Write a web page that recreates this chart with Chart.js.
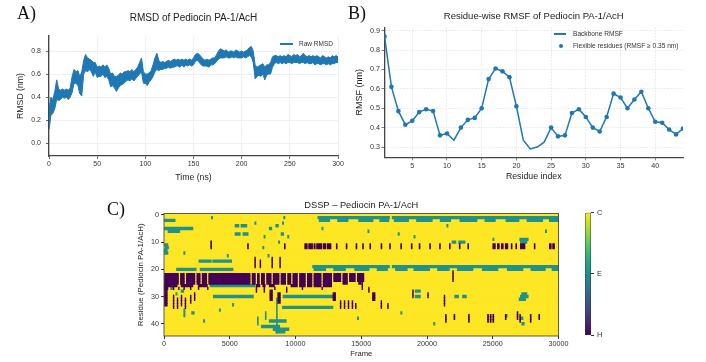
<!DOCTYPE html>
<html><head><meta charset="utf-8">
<script src="https://cdn.jsdelivr.net/npm/chart.js@4.4.1/dist/chart.umd.min.js"></script>
<style>
html,body{margin:0;padding:0;background:#fff;}
#wrap{position:relative;width:706px;height:362px;overflow:hidden;font-family:'Liberation Sans',Arial,sans-serif;background:#fff;}
canvas{position:absolute;}
.lab{position:absolute;font-family:'Liberation Serif','Times New Roman',serif;font-size:18px;color:#111;line-height:1;}
.leg{position:absolute;color:#333;white-space:nowrap;line-height:8px;}
</style></head><body>
<div id="wrap">
  <canvas id="chA" width="353" height="190" style="left:0;top:0"></canvas>
  <canvas id="chB" width="353" height="190" style="left:353px;top:0"></canvas>
  <canvas id="chC" width="470" height="172" style="left:100px;top:190px"></canvas>
  <canvas id="chD" width="50" height="150" style="left:570px;top:200px"></canvas>
  <div class="lab" style="left:17px;top:4px">A)</div>
  <div class="lab" style="left:348px;top:4px">B)</div>
  <div class="lab" style="left:107px;top:200px">C)</div>
  <div style="position:absolute;left:280px;top:43.4px;width:13px;height:1.3px;background:#1f77b4"></div>
  <div class="leg" style="left:299px;top:40px;font-size:6.5px">Raw RMSD</div>
  <div style="position:absolute;left:554px;top:33.3px;width:12px;height:1.5px;background:#1f77b4"></div>
  <div class="leg" style="left:573px;top:30px;font-size:6.6px">Backbone RMSF</div>
  <div style="position:absolute;left:559px;top:44px;width:4.4px;height:4.4px;border-radius:50%;background:#1f77b4"></div>
  <div class="leg" style="left:573px;top:42px;font-size:6.6px">Flexible residues (RMSF ≥ 0.35 nm)</div>
</div>
<script>
const BLUE = '#1f77b4';

// ---------- Panel A: RMSD (nm) vs time (ns), upper / lower edge of the noisy trace every 2 ns ----------
const rmsdTimeStep = 2;
const rmsdHigh = [
  0.30,0.40,0.38,0.45,0.55,0.47,0.46,0.47,0.46,0.47,
  0.46,0.48,0.58,0.64,0.62,0.63,0.58,0.62,0.72,0.77,
  0.74,0.73,0.72,0.70,0.70,0.66,0.67,0.66,0.68,0.66,
  0.68,0.65,0.60,0.61,0.58,0.58,0.59,0.61,0.60,0.62,
  0.62,0.63,0.62,0.64,0.62,0.64,0.66,0.70,0.74,0.62,
  0.60,0.60,0.61,0.63,0.68,0.74,0.78,0.72,0.70,0.71,
  0.70,0.71,0.72,0.71,0.72,0.73,0.72,0.73,0.72,0.73,
  0.72,0.73,0.72,0.73,0.72,0.74,0.77,0.78,0.77,0.75,
  0.73,0.72,0.73,0.72,0.73,0.74,0.74,0.77,0.80,0.82,
  0.81,0.80,0.81,0.79,0.80,0.80,0.79,0.81,0.80,0.79,
  0.80,0.79,0.80,0.81,0.83,0.84,0.80,0.68,0.66,0.67,
  0.68,0.69,0.66,0.68,0.68,0.70,0.75,0.76,0.76,0.75,
  0.76,0.75,0.76,0.75,0.77,0.76,0.75,0.77,0.76,0.77,
  0.75,0.76,0.78,0.76,0.75,0.76,0.75,0.76,0.75,0.76,
  0.75,0.74,0.76,0.75,0.74,0.75,0.74,0.76,0.75,0.76,
  0.75];
const rmsdLow = [
  0.12,0.24,0.26,0.30,0.38,0.37,0.38,0.40,0.39,0.40,
  0.38,0.40,0.44,0.52,0.52,0.50,0.43,0.41,0.60,0.63,
  0.62,0.64,0.62,0.58,0.62,0.57,0.58,0.58,0.60,0.57,
  0.58,0.55,0.49,0.50,0.48,0.45,0.48,0.50,0.51,0.52,
  0.54,0.55,0.54,0.56,0.54,0.56,0.58,0.60,0.62,0.52,
  0.52,0.50,0.53,0.55,0.58,0.62,0.64,0.63,0.64,0.64,
  0.65,0.65,0.66,0.65,0.66,0.66,0.67,0.67,0.66,0.68,
  0.66,0.68,0.67,0.68,0.67,0.68,0.71,0.72,0.70,0.68,
  0.67,0.67,0.67,0.66,0.68,0.68,0.69,0.71,0.73,0.74,
  0.74,0.74,0.75,0.74,0.74,0.75,0.74,0.75,0.74,0.74,
  0.74,0.75,0.74,0.75,0.76,0.75,0.70,0.56,0.58,0.59,
  0.58,0.60,0.55,0.59,0.60,0.60,0.66,0.69,0.70,0.69,
  0.70,0.69,0.70,0.69,0.70,0.70,0.69,0.70,0.70,0.70,
  0.69,0.70,0.70,0.69,0.70,0.69,0.69,0.70,0.68,0.69,
  0.69,0.68,0.69,0.69,0.68,0.69,0.68,0.69,0.69,0.70,
  0.70];
const rmsdXTicks = [0,50,100,150,200,250,300];
const rmsdYTicks = [0.0,0.2,0.4,0.6,0.8];

// ---------- Panel B: RMSF per residue ----------
const rmsfResidues = [1,2,3,4,5,6,7,8,9,10,11,12,13,14,15,16,17,18,19,20,21,22,23,24,25,26,27,28,29,30,31,32,33,34,35,36,37,38,39,40,41,42,43,44];
const rmsfValues = [0.87,0.61,0.485,0.415,0.435,0.48,0.495,0.485,0.36,0.37,0.335,0.40,0.44,0.45,0.50,0.65,0.705,0.69,0.66,0.51,
  0.335,0.29,0.30,0.325,0.40,0.355,0.36,0.475,0.495,0.455,0.40,0.38,0.455,0.575,0.555,0.50,0.545,0.585,0.50,0.43,0.425,0.39,0.365,0.395];
const rmsfThreshold = 0.35;
const rmsfXTicks = [5,10,15,20,25,30,35,40];
const rmsfYTicks = [0.3,0.4,0.5,0.6,0.7,0.8,0.9];

// ---------- Panel C: DSSP map, blocks of [firstResidue, lastResidue, startFrame, endFrame] ----------
const dsspResidues = Array.from({length:45}, (_, i) => String(i));
const dsspFrames = 30000;
const dsspXTicks = [0,5000,10000,15000,20000,25000,30000];
const dsspYTicks = [0,10,20,30,40];
const stateLabels = ['H','E','C'];
const stateTickValues = [0,1,2];
const stateColors = {H:'#440154', E:'#21918c', C:'#fde725'};
const viridisStops = ['#440154','#482475','#414487','#355f8d','#2a788e','#21918c','#22a884','#44bf70','#7ad151','#bddf26','#fde725'];

const helixBlocks = [
  [22,25,0,1100],[22,25,1250,1550],[22,25,1700,2350],[22,25,2500,2750],[22,25,2900,3250],[22,25,3400,6550],
  [22,25,6700,6950],[22,25,7100,7250],[22,25,7400,7650],[22,25,7800,8150],[22,25,8300,8750],[22,25,8900,9250],
  [22,25,9400,9650],[22,25,9800,10150],[22,25,10300,10750],[22,25,10900,11250],[22,25,11400,11950],[22,25,12100,12750],
  [22,24,12900,13450],[22,25,13600,13950],[22,24,14100,14550],[22,24,14700,15200],[25,25,14800,15000],
  [26,26,0,1000],[26,26,1300,2200],[26,26,2600,3300],[26,26,7000,7300],[26,26,7500,7700],[26,26,8000,8400],
  [26,26,9650,10150],[26,26,10300,10750],[26,26,10900,11250],[26,26,11400,11950],[26,26,12100,12750],
  [27,27,0,300],[27,27,700,760],[27,27,1100,1160],[27,27,1500,1560],[27,27,2000,2060],[27,27,2600,2660],[27,27,3300,3360],
  [27,28,7000,7060],[27,28,7600,7660],[27,27,8400,8460],[27,28,9300,9360],[27,27,10500,10560],[27,27,12000,12060],
  [26,33,0,250],[30,34,700,760],[31,34,1000,1060],[30,33,1300,1360],[31,34,1600,1660],[30,32,2000,2060],[29,31,2300,2360],
  [28,31,8050,8250],[29,32,8650,8850],[29,31,12850,13050],[32,34,13400,13460],[32,34,13700,13760],[32,34,14000,14060],
  [32,34,14300,14360],[33,34,14550,14610],[25,27,15050,15110],[27,28,15550,15610],[29,31,15850,16050],[32,34,16500,16560],[33,34,17000,17060],
  [28,30,18900,18960],[29,30,20050,20110],[30,33,21300,21360],[21,24,21950,22010],
  [11,12,10700,10900],[11,12,11000,11300],[11,12,11400,11500],[11,12,11600,12000],[11,12,12100,12300],[11,12,12400,12700],
  [11,12,13100,13170],[11,12,13850,13920],[11,12,14600,14670],[11,12,15100,15170],[11,12,15650,15720],[11,12,16500,16570],
  [11,12,17150,17220],[11,12,18000,18070],[11,12,18800,18870],[11,12,19400,19470],[11,12,20200,20270],[11,12,20950,21020],
  [11,12,21700,21770],[11,12,22450,22520],[11,12,23100,23170],
  [11,12,25000,25200],[11,12,25350,25500],[11,12,25650,25800],[11,12,25950,26150],[11,12,26400,26470],[11,12,26750,26820],
  [11,12,27100,27450],[11,12,28150,28220],[11,12,29300,29450],[11,12,29550,29700],
  [10,12,3550,3620],[11,12,6350,6420],[11,12,9150,9220],
  [16,19,6900,6960],[17,19,7300,7360],[16,19,8200,8260],[16,19,8800,8860],
  [37,39,21400,21470],[37,38,22050,22120],[37,39,23150,23220],[37,39,24600,24680],[37,39,24800,24880],[37,39,25000,25080],
  [37,38,25950,26020],[36,38,26850,26920],[37,39,27050,27120],[37,39,27850,27920],[37,38,28500,28570]
];
const strandBlocks = [
  [1,1,11700,17150],[1,1,17350,30000],
  [2,2,11800,12600],[2,2,13200,14000],[2,2,14800,15900],[2,2,16400,17100],[2,2,17500,18600],[2,2,19200,20400],
  [2,2,21000,21800],[2,2,22500,23800],[2,2,24400,25200],[2,2,26000,27000],[2,2,27600,28800],[2,2,29300,30000],
  [19,19,11300,17150],[19,19,17350,30000],
  [20,20,11400,12300],[20,20,12900,13800],[20,20,14500,15600],[20,20,16200,17000],[20,20,17600,18500],[20,20,19000,20200],
  [20,20,20800,21700],[20,20,22300,23500],[20,20,24200,25400],[20,20,26100,27300],[20,20,27900,29000],[20,20,29500,30000],
  [2,2,0,850],[5,5,0,2200],[6,6,300,1200],[4,4,5400,5700],[4,4,5850,6300],[7,7,5400,5800],[7,7,6000,6400],
  [11,11,0,300],[12,12,100,350],[13,13,0,250],[14,14,50,300],
  [17,17,2650,3600],[17,17,3700,5150],[20,20,950,2450],[20,20,2750,5250],
  [26,26,3500,6900],[30,30,3750,6800],[30,30,9050,12850],[34,34,9000,12850],
  [27,27,500,650],[28,28,1300,1500],[29,29,900,1000],
  [39,39,8000,9300],[41,41,7400,8800],[42,42,8300,9500],[43,43,8500,9200],[31,43,8550,8620],[38,40,7100,7170],[36,38,7700,7770],
  [35,37,1500,1600],[36,36,2100,2300],
  [9,9,27050,27700],[10,10,27100,27600],[10,10,21900,22200],[10,10,22400,22900],[30,30,22100,22400],[30,30,22700,23000],
  [29,29,27200,27600],[30,30,27100,27700],[31,31,27000,27500],[28,28,19100,19500],[30,30,19100,19500],[38,38,27100,27300],[40,40,27200,27400],
  [3,3,9000,9100],[4,4,8500,8700],[5,5,8000,8200],[8,8,7600,7700],[3,3,6900,7000],[7,7,8900,9100],[1,1,3600,3700],[1,1,9100,9200],
  [5,5,12000,12100],[15,15,4800,4900],[6,6,15500,15600],[7,7,17800,17900],[8,8,19000,19100],[4,4,21500,21600],[9,9,25000,25100],
  [6,6,29000,29100],[14,14,1500,1600],[36,36,18000,18100],[38,38,14700,14800],[40,40,20500,20600],[37,37,26000,26100],
  [33,33,5200,5300],[35,35,4200,4300],[39,39,3000,3100],[12,12,7500,7600],[15,15,7900,8000],[8,8,9400,9500],[10,10,8700,8800]
];

Chart.defaults.font.family = "'Liberation Sans', Arial, sans-serif";
Chart.defaults.color = '#333';
const setTicks = arr => s => { s.ticks = arr.map(v => ({value: v})); };

// ---------- A ----------
const rmsdUpper = rmsdHigh.map((v, i) => ({x: i * rmsdTimeStep, y: v}));
const rmsdLower = rmsdLow.map((v, i) => ({x: i * rmsdTimeStep, y: v}));
new Chart(document.getElementById('chA'), {
  type: 'line',
  data: {datasets: [
    {label: 'Raw RMSD', data: rmsdUpper, borderColor: BLUE, backgroundColor: BLUE, borderWidth: 1, pointRadius: 0, tension: 0, fill: '+1'},
    {label: 'Raw RMSD (lower)', data: rmsdLower, borderColor: BLUE, borderWidth: 1, pointRadius: 0, tension: 0, fill: false}
  ]},
  options: {
    responsive: false, animation: false,
    layout: {padding: {left: 0, right: 15, top: 0, bottom: 0}},
    plugins: {legend: {display: false}, tooltip: {enabled: false}, filler: {propagate: false},
      title: {display: true, text: 'RMSD of Pediocin PA-1/AcH', fullSize: false, color: '#222',
              font: {size: 10, weight: 'normal'}, padding: {top: 12, bottom: 12}}},
    scales: {
      x: {type: 'linear', min: 0, max: 300, afterBuildTicks: setTicks(rmsdXTicks), afterFit: s => { s.height = 34; },
          ticks: {font: {size: 7}, color: '#333', padding: 1, maxRotation: 0},
          grid: {color: '#ececec', lineWidth: 0.8, tickColor: '#444', tickLength: 3},
          border: {color: '#444', width: 1.3},
          title: {display: true, text: 'Time (ns)', color: '#222', font: {size: 8.7}, padding: {top: 0, bottom: 6.8}}},
      y: {type: 'linear', min: -0.11, max: 0.93, afterBuildTicks: setTicks(rmsdYTicks), afterFit: s => { s.width = 49; },
          ticks: {font: {size: 7}, color: '#333', padding: 5, callback: v => v.toFixed(1)},
          grid: {color: '#ececec', lineWidth: 0.8, tickColor: '#444', tickLength: 3},
          border: {color: '#444', width: 1.3},
          title: {display: true, text: 'RMSD (nm)', color: '#222', font: {size: 8.7}, padding: {top: 15.8, bottom: 0}}}
    }
  }
});

// ---------- B ----------
const rmsfLine = rmsfResidues.map((r, i) => ({x: r, y: rmsfValues[i]}));
const rmsfFlex = rmsfLine.filter(p => p.y >= rmsfThreshold);
new Chart(document.getElementById('chB'), {
  type: 'line',
  data: {datasets: [
    {label: 'Backbone RMSF', data: rmsfLine, borderColor: BLUE, borderWidth: 1.5, pointRadius: 0, tension: 0},
    {label: 'Flexible residues (RMSF ≥ 0.35 nm)', data: rmsfFlex, showLine: false, pointRadius: 2.3,
     pointBackgroundColor: BLUE, pointBorderWidth: 0, borderColor: BLUE}
  ]},
  options: {
    responsive: false, animation: false,
    layout: {padding: {left: 0, right: 23, top: 0, bottom: 0}},
    plugins: {legend: {display: false}, tooltip: {enabled: false},
      title: {display: true, text: 'Residue-wise RMSF of Pediocin PA-1/AcH', fullSize: false, color: '#222',
              font: {size: 9.5, weight: 'normal'}, padding: {top: 10.3, bottom: 5.6}}},
    scales: {
      x: {type: 'linear', min: 1, max: 44, afterBuildTicks: setTicks(rmsfXTicks), afterFit: s => { s.height = 32.7; },
          ticks: {font: {size: 7.2}, color: '#333', padding: 1.4, maxRotation: 0},
          grid: {color: '#dcdcdc', lineWidth: 0.7, tickColor: '#444', tickLength: 3},
          border: {color: '#444', width: 1.3, dash: [1.5, 1.5]},
          title: {display: true, text: 'Residue index', color: '#222', font: {size: 8.8}, padding: {top: 0, bottom: 7.7}}},
      y: {type: 'linear', min: 0.247, max: 0.917, afterBuildTicks: setTicks(rmsfYTicks), afterFit: s => { s.width = 31.5; },
          ticks: {font: {size: 7.2}, color: '#333', padding: 1.5, callback: v => v.toFixed(1)},
          grid: {color: '#dcdcdc', lineWidth: 0.7, tickColor: '#444', tickLength: 3},
          border: {color: '#444', width: 1.3, dash: [1.5, 1.5]},
          title: {display: true, text: 'RMSF (nm)', color: '#222', font: {size: 9}, padding: {top: 1.6, bottom: 0}}}
    }
  }
});

// ---------- C ----------
function expandBlocks(blocks) {
  const out = [];
  blocks.forEach(([r0, r1, s, e]) => { for (let r = r0; r <= r1; r++) out.push({y: String(r), x: [s, e]}); });
  return out;
}
const coilBars = dsspResidues.map(r => ({y: r, x: [0, dsspFrames]}));
const framePlugin = {
  id: 'frame',
  afterDatasetsDraw(chart) {
    const a = chart.chartArea, c = chart.ctx;
    c.save(); c.strokeStyle = '#333'; c.lineWidth = 0.8;
    c.strokeRect(a.left, a.top, a.right - a.left, a.bottom - a.top); c.restore();
  }
};
new Chart(document.getElementById('chC'), {
  type: 'bar',
  data: {labels: dsspResidues, datasets: [
    {label: 'H', data: expandBlocks(helixBlocks), backgroundColor: stateColors.H, order: 0},
    {label: 'E', data: expandBlocks(strandBlocks), backgroundColor: stateColors.E, order: 1},
    {label: 'C', data: coilBars, backgroundColor: stateColors.C, order: 2}
  ]},
  options: {
    indexAxis: 'y', responsive: false, animation: false,
    datasets: {bar: {grouped: false, barPercentage: 1, categoryPercentage: 1, borderWidth: 0, borderSkipped: false}},
    layout: {padding: {left: 0, right: 11.5, top: 0, bottom: 0}},
    plugins: {legend: {display: false}, tooltip: {enabled: false},
      title: {display: true, text: 'DSSP – Pediocin PA-1/AcH', fullSize: false, color: '#222',
              font: {size: 9.3, weight: 'normal'}, padding: {top: 9.4, bottom: 3}}},
    scales: {
      x: {type: 'linear', min: 0, max: dsspFrames, afterBuildTicks: setTicks(dsspXTicks), afterFit: s => { s.height = 26; },
          ticks: {font: {size: 7.2}, color: '#333', padding: 1, maxRotation: 0, callback: v => String(v)},
          grid: {drawOnChartArea: false, tickColor: '#333', tickLength: 3},
          border: {display: false},
          title: {display: true, text: 'Frame', color: '#222', font: {size: 7.6}, padding: {top: 0, bottom: 3.4}}},
      y: {type: 'category', afterBuildTicks: setTicks(dsspYTicks), afterFit: s => { s.width = 64; },
          ticks: {font: {size: 7.2}, color: '#333', padding: 2, autoSkip: false},
          grid: {drawOnChartArea: false, offset: false, tickColor: '#333', tickLength: 3},
          border: {display: false},
          title: {display: true, text: 'Residue (Pediocin PA-1/AcH)', color: '#222', font: {size: 7.9}, padding: {top: 36.3, bottom: 0}}}
    }
  },
  plugins: [framePlugin]
});

// ---------- colour bar ----------
new Chart(document.getElementById('chD'), {
  type: 'bar',
  data: {labels: ['state'], datasets: [{
    data: [[stateTickValues[0], stateTickValues[stateTickValues.length - 1]]],
    backgroundColor: ctx => {
      const a = ctx.chart.chartArea;
      if (!a) return stateColors.E;
      const g = ctx.chart.ctx.createLinearGradient(0, a.bottom, 0, a.top);
      viridisStops.forEach((c, i) => g.addColorStop(i / (viridisStops.length - 1), c));
      return g;
    },
    borderColor: '#333', borderWidth: 0.8, borderSkipped: false, barPercentage: 1, categoryPercentage: 1
  }]},
  options: {
    responsive: false, animation: false,
    layout: {padding: {left: 15, right: 0, top: 12.7, bottom: 14.7}},
    plugins: {legend: {display: false}, tooltip: {enabled: false}},
    scales: {
      x: {display: false},
      y: {position: 'right', min: 0, max: 2, afterBuildTicks: setTicks(stateTickValues), afterFit: s => { s.width = 29; },
          ticks: {font: {size: 7.5}, color: '#333', padding: 3, callback: v => stateLabels[v]},
          grid: {drawOnChartArea: false, tickColor: '#333', tickLength: 3},
          border: {display: false}}
    }
  }
});
</script>
</body></html>
